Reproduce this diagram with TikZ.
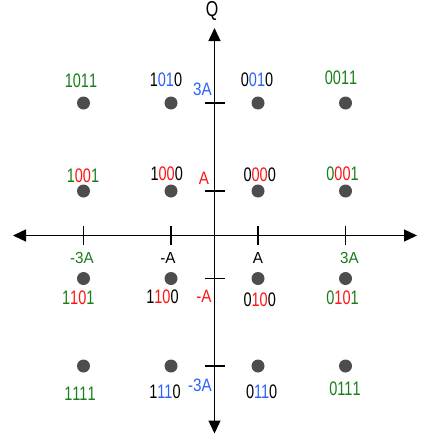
\documentclass[tikz,border=0pt]{standalone}
\usepackage{fontspec}
\setmainfont{Liberation Sans}
\usetikzlibrary{arrows.meta}
\definecolor{qg}{RGB}{25,125,25}
\definecolor{qb}{RGB}{45,95,255}
\definecolor{qr}{RGB}{255,20,20}
\definecolor{dotc}{RGB}{77,77,77}
\newcommand\bl[5]{\textcolor{#1}{#3}\textcolor{#2}{#4}\textcolor{#1}{#5}}
\newcommand\tallbits[1]{\scalebox{1}[1.35]{#1}}
\newcommand\tallq[1]{\scalebox{1}[1.18]{#1}}
\newcommand\talli[1]{\scalebox{1}[1.05]{#1}}
\begin{document}
\begin{tikzpicture}[x=1pt,y=-1pt,
  axisline/.style={line width=1.4pt, {Triangle[length=13pt,width=12pt]}-{Triangle[length=13pt,width=12pt]}},
  tickmark/.style={line width=1.3pt},
  dot/.style={circle, fill=dotc, minimum size=13pt, inner sep=0pt},
  bitlbl/.style={inner sep=0pt, font=\fontsize{14.5}{16}\selectfont},
  axlbl/.style={inner sep=0pt, font=\fontsize{15.2}{17}\selectfont},
  qname/.style={inner sep=0pt, font=\fontsize{16}{18}\selectfont}]
\useasboundingbox (0,0) rectangle (433,434);
% axes
\coordinate (L) at (13,235.5);
\coordinate (R) at (417,235.5);
\coordinate (T) at (214.5,28);
\coordinate (B) at (214.5,433.5);
\draw[axisline] (L) -- (R);
\draw[axisline] (B) -- (T);
\node[qname] (Qlab) at (212,11) {\scalebox{1}[1.35]{Q}};
% I-axis ticks
\foreach \x in {83.5,171,258,345.5}
  \draw[tickmark] (\x,226) -- (\x,245);
% Q-axis ticks
\foreach \y in {103,191,278.5,366}
  \draw[tickmark] (204.5,\y) -- (224.5,\y);
% dots
\foreach \x/\c in {83.5/1,171/2,258/3,345.5/4}
  \foreach \y/\r in {103/1,191/2,278.5/3,366/4}
    \node[dot] (d\r\c) at (\x,\y) {};
% bit labels row 1
\node[bitlbl] (b11) at (81,81) {\tallbits{\bl{qg}{qg}{1}{01}{1}}};
\node[bitlbl] (b12) at (166,80) {\tallbits{\bl{black}{qb}{1}{01}{0}}};
\node[bitlbl] (b13) at (257,80) {\tallbits{\bl{black}{qb}{0}{01}{0}}};
\node[bitlbl] (b14) at (341,78) {\tallbits{\bl{qg}{qg}{0}{01}{1}}};
% row 2
\node[bitlbl] (b21) at (83,176) {\tallbits{\bl{qg}{qr}{1}{00}{1}}};
\node[bitlbl] (b22) at (166.7,173.5) {\tallbits{\bl{black}{qr}{1}{00}{0}}};
\node[bitlbl] (b23) at (259.7,174.7) {\tallbits{\bl{black}{qr}{0}{00}{0}}};
\node[bitlbl] (b24) at (342.5,173.5) {\tallbits{\bl{qg}{qr}{0}{00}{1}}};
% row 3
\node[bitlbl] (b31) at (78.3,298) {\tallbits{\bl{qg}{qr}{1}{10}{1}}};
\node[bitlbl] (b32) at (162.5,296.7) {\tallbits{\bl{black}{qr}{1}{10}{0}}};
\node[bitlbl] (b33) at (259.7,299.5) {\tallbits{\bl{black}{qr}{0}{10}{0}}};
\node[bitlbl] (b34) at (342.5,298) {\tallbits{\bl{qg}{qr}{0}{10}{1}}};
% row 4
\node[bitlbl] (b41) at (80,393.7) {\tallbits{\bl{qg}{qg}{1}{11}{1}}};
\node[bitlbl] (b42) at (165,392) {\tallbits{\bl{black}{qb}{1}{11}{0}}};
\node[bitlbl] (b43) at (261.7,392) {\tallbits{\bl{black}{qb}{0}{11}{0}}};
\node[bitlbl] (b44) at (345,389) {\tallbits{\bl{qg}{qg}{0}{11}{1}}};
% Q-axis labels
\node[axlbl, text=qb] (q3) at (202.5,89.5) {\tallq{3A}};
\node[axlbl, text=qr] (q1) at (204,178) {\tallq{A}};
\node[axlbl, text=qr] (qm1) at (204,296.7) {\tallq{-A}};
\node[axlbl, text=qb] (qm3) at (200,385.8) {\tallq{-3A}};
% I-axis labels
\node[axlbl, text=qg] (im3) at (82,258.3) {\talli{-3A}};
\node[axlbl] (im1) at (168,257.8) {\talli{-A}};
\node[axlbl] (i1) at (258,258) {\talli{A}};
\node[axlbl, text=qg] (i3) at (349.5,258) {\talli{3A}};
\end{tikzpicture}
\end{document}
